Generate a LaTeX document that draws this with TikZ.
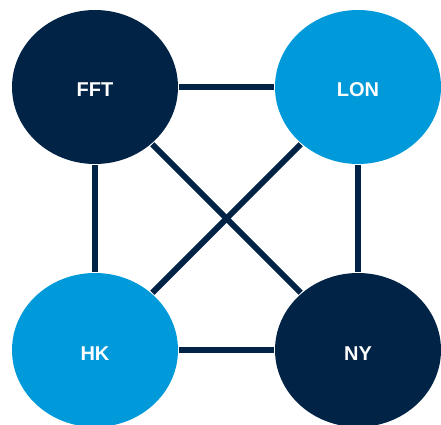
\documentclass[tikz,border=0pt]{standalone}
\usepackage{fontspec}
\setmainfont{Liberation Sans}
\usepackage{tikz}
\usetikzlibrary{shapes.geometric}

\definecolor{navy}{RGB}{0,35,70}
\definecolor{skyblue}{RGB}{0,153,218}

\begin{document}
\begin{tikzpicture}[x=1pt,y=1pt,shorten >=1pt,shorten <=1pt]
		\tikzstyle{city}=[shape=ellipse,inner sep=0pt,minimum width=166pt,minimum height=154pt,text=white,font=\fontsize{20}{24}\selectfont\bfseries,text height=20pt,text depth=0pt]
		\tikzstyle{link}=[draw=navy,line width=6pt]
		\useasboundingbox (0,0) rectangle (441,424);

		\node[city,fill=navy](fft) at (95,337){FFT};
		\node[city,fill=skyblue](lon) at (358,337){LON};
		\node[city,fill=skyblue](hk) at (95,74){HK};
		\node[city,fill=navy](ny) at (358,74){NY};

		\draw[link] (fft) -- (lon);
		\draw[link] (fft) -- (hk);
		\draw[link] (lon) -- (ny);
		\draw[link] (hk) -- (ny);
		\draw[link] (fft) -- (ny);
		\draw[link] (lon) -- (hk);
	\end{tikzpicture}
\end{document}
